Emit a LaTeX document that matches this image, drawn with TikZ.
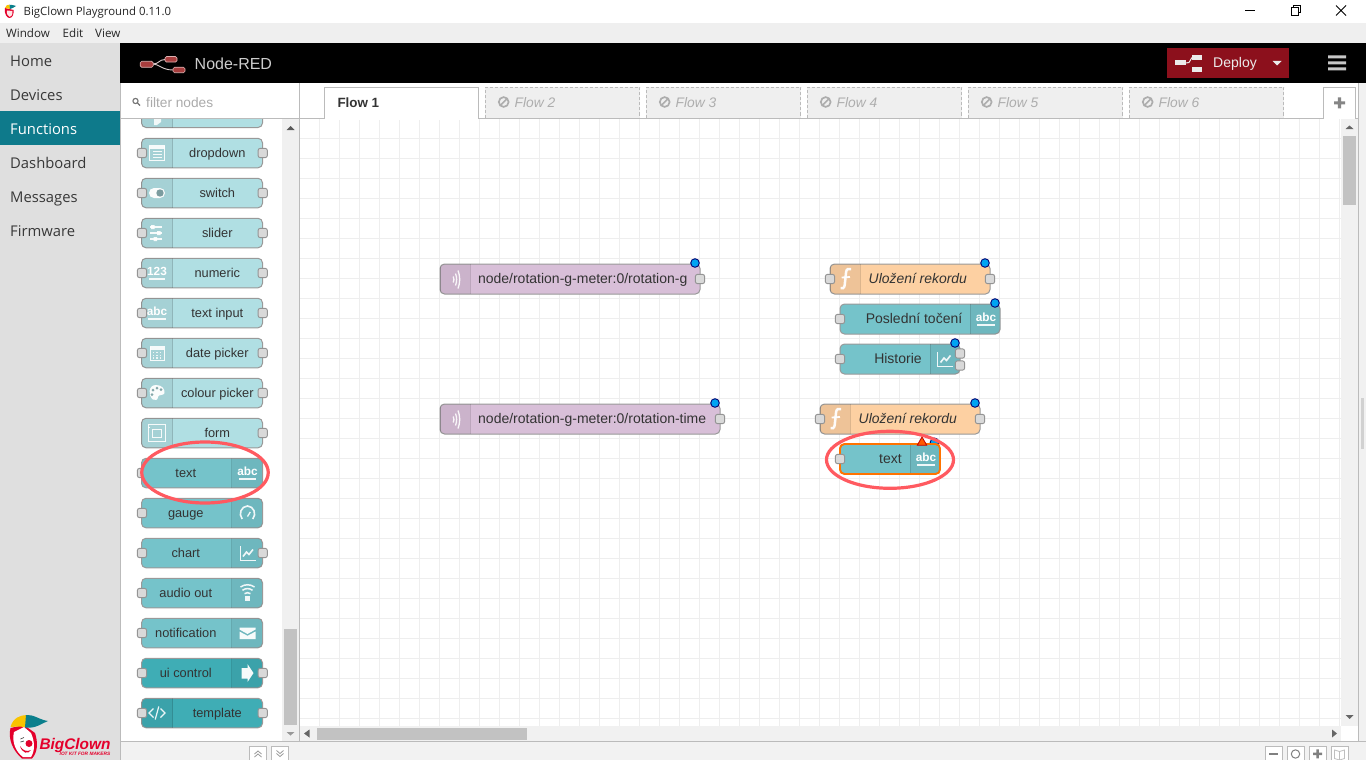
\documentclass[tikz,border=0pt]{standalone}
\usepackage{fontspec}
\setmainfont{Liberation Sans}
\newfontfamily\uifont{Open Sans}
\usetikzlibrary{shapes.geometric,calc}
\definecolor{sidegray}{HTML}{DFDFDF}
\definecolor{menugray}{HTML}{EFEFEF}
\definecolor{funcblue}{HTML}{0E7A8B}
\definecolor{deployred}{HTML}{8C101C}
\definecolor{lineg}{HTML}{BBBBBB}
\definecolor{gridg}{HTML}{EEEEEE}
\definecolor{uilight}{HTML}{B0DFE3}
\definecolor{uimid}{HTML}{75C3CA}
\definecolor{uidark}{HTML}{3FADB5}
\definecolor{mqttp}{HTML}{D8BFD8}
\definecolor{funco}{HTML}{FDD0A2}
\definecolor{portg}{HTML}{D9D9D9}
\definecolor{textd}{HTML}{333333}
\definecolor{ringred}{HTML}{FF5A60}
\definecolor{dotblue}{HTML}{00A4F2}
\definecolor{logored}{HTML}{E4002B}
\definecolor{logoyel}{HTML}{F9C400}
\definecolor{logotea}{HTML}{0B7F8C}
\definecolor{logonr}{HTML}{A83E3E}
\tikzset{
  x=1pt,y=-1pt,
  nrbody/.style={draw=black!40,line width=1pt,rounded corners=4.5pt,inner sep=0,outer sep=0},
  nrport/.style={draw=black!42,fill=portg,line width=.9pt,rounded corners=2pt,minimum size=9.2pt,inner sep=0,outer sep=0},
  nrlabel/.style={font=\fontsize{12.8}{14}\selectfont,text=textd,inner sep=0,anchor=base},
  flowlabel/.style={font=\fontsize{14}{16}\selectfont,text=textd,inner sep=0,anchor=base},
  changed/.style={circle,draw=black!55!blue,fill=dotblue,line width=.9pt,minimum size=8.6pt,inner sep=0,outer sep=0},
  sidelabel/.style={font=\uifont\fontsize{14.8}{16}\selectfont,text=black!78,anchor=base west,inner sep=0},
  menulabel/.style={font=\uifont\fontsize{11.6}{13}\selectfont,text=black!85,anchor=base west,inner sep=0},
  tabdis/.style={draw=lineg,dash pattern=on 3pt off 2pt,line width=.8pt},
  tablabel/.style={font=\itshape\fontsize{13.8}{15}\selectfont,text=black!32,anchor=base west,inner sep=0},
  ic/.style={white,line width=1pt,opacity=.9},
  ringmark/.style={draw=ringred,line width=3.2pt},
  toolbtn/.style={draw=lineg,fill=white,line width=.8pt,inner sep=0,outer sep=0},
  logobox/.style={draw=white!60!logonr,fill=logonr,line width=.7pt,rounded corners=1.5pt,inner sep=0,outer sep=0},
}
% generic node body: name,x,ytop,w,h,colour,icon x0,icon x1
\newcommand\nrbox[8]{%
  \node[nrbody,fill=#6,minimum width=#4pt,minimum height=#5pt,anchor=north west] (#1) at (#2,#3) {};
  \begin{scope}
    \clip[rounded corners=4.5pt] (#2,#3) rectangle ++(#4,#5);
    \fill[black,opacity=.06] (#7,#3) rectangle (#8,#3+#5);
    \draw[black,opacity=.13,line width=.8pt] (#7,#3) -- (#7,#3+#5);
    \draw[black,opacity=.13,line width=.8pt] (#8,#3) -- (#8,#3+#5);
  \end{scope}}
\newcommand\palL[5]{% name,ytop,colour,label,icon
  \nrbox{#1}{141.5}{#2}{121}{29.5}{#3}{141.5}{172.5}
  \begin{scope}[shift={(157,#2+14.7)}]#5\end{scope}
  \node[nrlabel] (#1-t) at (217.3,#2+19.2) {#4};}
\newcommand\palR[5]{%
  \nrbox{#1}{141.5}{#2}{121}{29.5}{#3}{231.5}{262.5}
  \begin{scope}[shift={(247.5,#2+14.7)}]#5\end{scope}
  \node[nrlabel] (#1-t) at (185.8,#2+19.2) {#4};}
\newcommand\pin[2]{\node[nrport] (#1-in) at (142,#2+14.7) {};}
\newcommand\pout[2]{\node[nrport] (#1-out) at (262.7,#2+14.7) {};}
\newcommand\icabcb[1]{\node[white,font=\bfseries\fontsize{11.8}{12}\selectfont,inner sep=0,anchor=base] (#1) at (0,2.8) {abc};\draw[ic,line width=1.4pt] (-8.7,5.9) -- (8.7,5.9);}
\newcommand\icchart{\draw[ic] (-7.5,-7) -- (-7.5,7) -- (8,7);\draw[ic,line width=1.6pt] (-4.5,3.5) -- (-1,-1) -- (1.5,1.5) -- (5.5,-3.5);}
\newcommand\icwave{\draw[ic,line width=1.3pt] (-1.8,-3) .. controls (-.8,-1) and (-.8,1) .. (-1.8,3) (.5,-6) .. controls (2,-2) and (2,2) .. (.5,6) (3,-9) .. controls (5.3,-3) and (5.3,3) .. (3,9);}
\newcommand\icfunc{\draw[white,line width=2.5pt,opacity=.95] (5.5,-9.5) .. controls (3,-10.5) and (1,-9.5) .. (.6,-6.5) -- (-.8,6.5) .. controls (-1.2,9.5) and (-3,10.5) .. (-4.8,9.5);\draw[white,line width=1.8pt,opacity=.95] (-3.8,-1) -- (4.5,-1.5);}
\begin{document}
\begin{tikzpicture}
\useasboundingbox (0,0) rectangle (1366,760);
\fill[white] (0,0) rectangle (1366,760);
% title bar and menu
\fill[menugray] (0,23) rectangle (1366,43);
\fill[logored] (5,8) .. controls (4,14) and (7,18) .. (9.5,18) .. controls (13,18) and (14,13) .. (13.5,10) -- cycle;
\fill[white!90!red] (7,10.5) .. controls (6.5,14) and (8,16.8) .. (9.8,16.8) .. controls (12,16.8) and (13,14) .. (12.5,11) -- cycle;
\fill[logoyel] (5,8) .. controls (5.5,5) and (8,4.5) .. (9.5,4.7) -- (10,9) -- cycle;
\fill[logotea] (9.5,4.7) .. controls (12,4.5) and (14,5.5) .. (16,6) .. controls (14,7) and (12,9) .. (10,9) -- cycle;
\node[menulabel,font=\uifont\fontsize{11.4}{13}\selectfont] (title) at (23.5,16) {BigClown Playground 0.11.0};
\node[menulabel] (mwin) at (6,37.6) {Window};
\node[menulabel] (medit) at (62.5,37.6) {Edit};
\node[menulabel] (mview) at (95,37.6) {View};
\draw[black,line width=.9pt] (1245,10.5) -- (1255,10.5);
\draw[black,line width=.9pt] (1291,7) rectangle (1298,15);
\draw[black,line width=.9pt] (1293.5,7) -- (1293.5,5) -- (1300.5,5) -- (1300.5,12.5) -- (1298,12.5);
\draw[black,line width=.9pt] (1336,5.5) -- (1346,15.5) (1346,5.5) -- (1336,15.5);
% left sidebar
\fill[sidegray] (0,43) rectangle (120,760);
\fill[funcblue] (0,111) rectangle (120,145);
\node[sidelabel] (home) at (10,66.4) {Home};
\node[sidelabel] (devices) at (10,100.4) {Devices};
\node[sidelabel,text=white] (functions) at (10,134.4) {Functions};
\node[sidelabel] (dashboard) at (10,168.4) {Dashboard};
\node[sidelabel] (messages) at (10,202.4) {Messages};
\node[sidelabel] (firmware) at (10,236.4) {Firmware};
% BigClown logo
\fill[logored] (10.5,728) .. controls (8,738) and (12,750) .. (22,758.5) -- (32,758.5) .. controls (38,752) and (38,742) .. (35,733) -- (24,725) -- cycle;
\fill[white] (14,732) .. controls (11.5,742) and (16,752) .. (23,757) -- (31,757) .. controls (35,751) and (35,742) .. (31,733) -- (24,727) -- cycle;
\fill[logoyel] (10.5,727) .. controls (13,718) and (20,715) .. (27,715) -- (26,727) -- (18,726.5) -- cycle;
\fill[logotea] (26,715) .. controls (33,714) and (40,720) .. (48,721) .. controls (42,723) and (36,729) .. (25,727.5) -- cycle;
\fill[logored] (29,743.5) circle (3.5);
\fill[logored] (20,746) .. controls (23,751) and (27,752) .. (31,750) .. controls (28,755) and (22,753) .. (20,746) -- cycle;
\draw[black!70,line width=.7pt] (20.5,739) -- (24,737.5) (20.5,742) -- (24,741);
\node[logored,font=\bfseries\itshape\fontsize{15.4}{18}\selectfont,inner sep=0,anchor=base] (bcname) at (75,749) {BigClown};
\node[logored,font=\bfseries\itshape\fontsize{4.8}{5}\selectfont,inner sep=0] (bcsub) at (85,754) {IOT KIT FOR MAKERS};
% black header
\fill[black] (120,43) rectangle (1366,83);
\draw[white!85!logonr,line width=.9pt,opacity=.9] (153,64) .. controls (159,64) and (159,59.5) .. (165,59.5) (153,64) .. controls (159,64) and (162,70) .. (173,70);
\node[logobox,minimum width=13pt,minimum height=6pt] (lg1) at (146.7,64.3) {};
\node[logobox,minimum width=12pt,minimum height=5.5pt] (lg2) at (171,59.3) {};
\node[logobox,minimum width=12pt,minimum height=5.5pt] (lg3) at (179,70) {};
\node[font=\fontsize{16}{18}\selectfont,text=black!20,anchor=base west,inner sep=0] (nrtitle) at (194.5,69.7) {Node-RED};
% deploy
\node[fill=deployred,minimum width=122pt,minimum height=30pt,inner sep=0,outer sep=0,anchor=north west] (deploy) at (1167,48) {};
\node[font=\fontsize{14}{16}\selectfont,text=black!8,inner sep=0,anchor=base] (deployt) at (1235,68) {Deploy};
\fill[white!92!black] (1175,60.5) rectangle (1186,65.5);
\fill[white!92!black] (1192,55) rectangle (1202,60);
\fill[white!92!black] (1192,67.5) rectangle (1202,72.5);
\draw[white!92!black,line width=1pt] (1186,63) -- (1189,62.5) -- (1192,57.5);
\fill[white!92!black] (1272.5,61) -- (1281.5,61) -- (1277,65.5) -- cycle;
\fill[black!22] (1328,55.5) rectangle (1346,58.5) (1328,61.5) rectangle (1346,64.5) (1328,67.5) rectangle (1346,70.5);
% canvas grid
\begin{scope}
\clip (300,119) rectangle (1341,726);
\foreach \gx in {0,...,51} \draw[gridg,line width=.8pt] (319.5+20*\gx,119) -- (319.5+20*\gx,726);
\foreach \gy in {0,...,29} \draw[gridg,line width=.8pt] (300,138.5+20*\gy) -- (1341,138.5+20*\gy);
\end{scope}
% canvas scrollbars
\fill[white!94.5!black] (1341,119) rectangle (1358,726);
\fill[white!94.5!black] (300,726) rectangle (1341,741);
\fill[black!24] (1343,136) rectangle (1356,205);
\fill[black!24] (317,727.5) rectangle (527,740);
\fill[black!60] (1345.5,129) -- (1353.5,129) -- (1349.5,125.5) -- cycle;
\fill[black!60] (1345.5,715) -- (1353.5,715) -- (1349.5,719) -- cycle;
\fill[black!60] (304,733.5) -- (309.5,729.5) -- (309.5,737.5) -- cycle;
\fill[black!60] (1337,733.5) -- (1332,729.5) -- (1332,737.5) -- cycle;
\draw[lineg,line width=.8pt] (1358.3,83) -- (1358.3,741);
\fill[white!94.5!black] (1358.7,83) rectangle (1366,741);
\fill[black!18] (1361,398) rectangle (1364,449);
% tabs
\fill[white] (300,83) rectangle (1358,118);
\draw[lineg,line width=1pt] (300,118.5) -- (1358,118.5);
\draw[lineg,line width=.8pt,fill=white] (324.5,118.5) -- (324.5,87.5) -- (478.7,87.5) -- (478.7,118.5);
\fill[white] (325,117) rectangle (478.2,120);
\node[font=\bfseries\fontsize{13.4}{15}\selectfont,text=textd,anchor=base west,inner sep=0] (flow1) at (337.3,107) {Flow 1};
\foreach \fx/\fn in {485/2,646/3,807/4,968/5,1129/6}{
  \fill[menugray] (\fx,87.5) rectangle (\fx+154.5,118);
  \draw[tabdis] (\fx,118) -- (\fx,87.5) -- (\fx+154.5,87.5) -- (\fx+154.5,118);
  \draw[black!32,line width=1.7pt] (\fx+18.7,102) circle (4.9);
  \draw[black!32,line width=1.7pt] (\fx+15.2,105.5) -- (\fx+22.2,98.5);
  \node[tablabel] (flow\fn) at (\fx+29.5,107) {Flow \fn};
}
\draw[lineg,line width=.8pt,fill=white] (1323,118.5) -- (1323,87.5) -- (1355,87.5) -- (1355,118.5);
\fill[black!48] (1334,101.3) rectangle (1345,104.3) (1337.9,97.3) rectangle (1341,108.3);
% bottom bar
\fill[white!95!black] (121,741) rectangle (1366,760);
\draw[lineg,line width=1pt] (121,741.5) -- (1366,741.5);
\node[toolbtn,minimum width=17pt,minimum height=19pt,anchor=north west] (bup) at (249.5,746) {};
\node[toolbtn,minimum width=17pt,minimum height=19pt,anchor=north west] (bdown) at (271.5,746) {};
\draw[black!40,line width=.8pt] (254.5,754) -- (258,751) -- (261.5,754) (254.5,757) -- (258,754) -- (261.5,757);
\draw[black!40,line width=.8pt] (276.5,750.5) -- (280,753.5) -- (283.5,750.5) (276.5,753.5) -- (280,756.5) -- (283.5,753.5);
\node[toolbtn,minimum width=17pt,minimum height=19pt,anchor=north west] (zm) at (1265,746) {};
\node[toolbtn,minimum width=17pt,minimum height=19pt,anchor=north west] (zr) at (1287,746) {};
\node[toolbtn,minimum width=17pt,minimum height=19pt,anchor=north west] (zp) at (1309,746) {};
\node[toolbtn,minimum width=17pt,minimum height=19pt,anchor=north west] (zn) at (1331,746) {};
\fill[black!50] (1269,752.5) rectangle (1278,755);
\draw[black!50,line width=1pt] (1295.5,754) circle (4.2);
\fill[black!50] (1313,752.5) rectangle (1322,755) (1316.3,749.3) rectangle (1318.8,758.3);
\draw[black!25,line width=.8pt] (1334.5,750) -- (1339.5,751.5) -- (1344.5,750) -- (1344.5,758.5) -- (1339.5,760) -- (1334.5,758.5) -- cycle (1339.5,751.5) -- (1339.5,760);
% palette panel
\fill[white] (121,83) rectangle (300,118);
\draw[lineg,line width=1pt] (121,118.5) -- (300,118.5);
\draw[lineg,line width=.9pt] (120.5,83) -- (120.5,760);
\draw[lineg,line width=.9pt] (299.5,83) -- (299.5,741);
\draw[black!55,line width=1.1pt] (135.5,101) circle (2.6) (137.5,103) -- (140,105.5);
\node[font=\fontsize{13.7}{15}\selectfont,text=black!33,anchor=base west,inner sep=0] (filter) at (146,107) {filter nodes};
\fill[white!94!black] (282,119) rectangle (298.5,741);
\fill[black!24] (284,629) rectangle (297,725);
\fill[black!65] (286.5,130) -- (294.5,130) -- (290.5,126) -- cycle;
\fill[black!40] (286.5,732) -- (294.5,732) -- (290.5,735.5) -- cycle;
% clipped node at the top of the list
\begin{scope}
\clip (122,119) rectangle (282,140);
\nrbox{clipn}{141.5}{98}{121}{29.5}{uilight}{141.5}{172.5}
\fill[white,opacity=.85] (154,119) -- (161,119) -- (161,122) -- (157,125) -- (154,125) -- cycle;
\end{scope}
% palette nodes
\palL{ndrop}{138.3}{uilight}{dropdown}{\draw[ic] (-7.7,-7.5) rectangle (7.7,7.5);\fill[white,opacity=.9] (-7.7,-7.5) rectangle (7.7,-4);\draw[ic,line width=.8pt] (-4,-1.5)--(5,-1.5) (-4,1.5)--(5,1.5) (-4,4.5)--(5,4.5);}
\pin{ndrop}{138.3}\pout{ndrop}{138.3}
\palL{nswitch}{178.3}{uilight}{switch}{\fill[white,opacity=.95,rounded corners=5pt] (-8,-5) rectangle (8,5);\fill[uilight!70!black] (3,0) circle (3.7);}
\pin{nswitch}{178.3}\pout{nswitch}{178.3}
\palL{nslider}{218.3}{uilight}{slider}{\draw[ic,line width=1.2pt] (-7,-6)--(5,-6) (-7,0)--(5,0) (-7,6)--(5,6);\fill[white,opacity=.9] (-6,-8) rectangle (-2.5,-4) (0,-2) rectangle (3.5,2) (-3.5,4) rectangle (0,8);}
\pin{nslider}{218.3}\pout{nslider}{218.3}
\palL{nnum}{258.3}{uilight}{numeric}{\node[white,font=\bfseries\fontsize{11.8}{12}\selectfont,inner sep=0,anchor=base] (i123) at (0,2.8) {123};\draw[ic,line width=1.4pt] (-8,5.9) -- (8,5.9);}
\pin{nnum}{258.3}\pout{nnum}{258.3}
\palL{ntin}{298.3}{uilight}{text input}{\icabcb{itin}}
\pin{ntin}{298.3}\pout{ntin}{298.3}
\palL{ndate}{338.3}{uilight}{date picker}{\draw[ic] (-7,-6.5) rectangle (7,7.5);\fill[white,opacity=.9] (-7,-6.5) rectangle (7,-3.5);\foreach \dx in {-3.5,0,3.5}\foreach \dy in {-.5,2.2,4.9}\fill[white,opacity=.8] (\dx-.6,\dy-.6) rectangle (\dx+.6,\dy+.6);}
\pin{ndate}{338.3}\pout{ndate}{338.3}
\palL{ncol}{378.3}{uilight}{colour picker}{\fill[white,opacity=.95] (-1,-8) .. controls (5,-8) and (8,-4) .. (7.5,0) .. controls (7,3) and (1,1) .. (1,4) .. controls (1,7) and (-2,8) .. (-4,6.5) .. controls (-9,3) and (-9,-8) .. (-1,-8) -- cycle;\fill[uilight!75!black] (-4,-3) circle (1.5) (0,-5) circle (1.5) (4,-3.5) circle (1.5) (-5,1.5) circle (1.5);}
\pin{ncol}{378.3}\pout{ncol}{378.3}
\palL{nform}{418.3}{uilight}{form}{\draw[ic,line width=.8pt] (-9,-8.5) rectangle (8,8.5);\draw[ic,line width=.8pt] (-4.5,-4) rectangle (4,4.5);\draw[ic,line width=.8pt] (-9,-5.5) -- (-7,-5.5);}
\pout{nform}{418.3}
\pin{ntext}{458.3}
\palR{ntext}{458.3}{uimid}{text}{\icabcb{itxt}}
\palR{ngauge}{498.3}{uimid}{gauge}{\draw[ic,line width=1.6pt] (-5.3,6) .. controls (-9.5,1) and (-6,-7) .. (0,-7) .. controls (6,-7) and (9.5,1) .. (5.3,6);\draw[ic,line width=1.3pt] (0,3.5) -- (2.8,-1);}
\pin{ngauge}{498.3}
\palR{nchart}{538.3}{uimid}{chart}{\icchart}
\pin{nchart}{538.3}\pout{nchart}{538.3}
\palR{naudio}{578.3}{uimid}{audio out}{\fill[white,opacity=.9] (-2.5,2.5) rectangle (2.5,8);\draw[ic,line width=1.5pt] (-7,-6) .. controls (-3,-9) and (3,-9) .. (7,-6) (-5,-2.7) .. controls (-2,-5) and (2,-5) .. (5,-2.7) (-3,.7) .. controls (-1,-.7) and (1,-.7) .. (3,.7);}
\pin{naudio}{578.3}
\palR{nnote}{618.3}{uimid}{notification}{\fill[white,opacity=.95] (-8,-5.5) -- (8,-5.5) -- (8,-3.5) -- (0,1) -- (-8,-3.5) -- cycle;\fill[white,opacity=.95] (-8,-1.5) -- (0,2.8) -- (8,-1.5) -- (8,6) -- (-8,6) -- cycle;}
\pin{nnote}{618.3}
\palR{nuic}{658.3}{uidark}{ui control}{\fill[white,opacity=.95] (-6,-5) -- (0,-5) -- (0,-9) -- (6,0) -- (0,9) -- (0,5.5) -- (-6,5.5) -- cycle;}
\pin{nuic}{658.3}\pout{nuic}{658.3}
\palL{ntmpl}{698.3}{uidark}{template}{\draw[ic,line width=1.2pt] (-3.5,-4.5)--(-8,0)--(-3.5,4.5) (3.5,-4.5)--(8,0)--(3.5,4.5) (1.8,-6.5)--(-1.8,6.5);}
\pin{ntmpl}{698.3}\pout{ntmpl}{698.3}
% ------- flow nodes
\nrbox{mq1}{440}{264}{260}{30}{mqttp}{440}{470}
\begin{scope}[shift={(455,279.5)}]\icwave\end{scope}
\node[flowlabel] (mq1-t) at (582.7,283.3) {node/rotation-g-meter:0/rotation-g};
\node[nrport] (mq1-out) at (700,279) {};
\node[changed] (mq1-d) at (695,263) {};
\nrbox{mq2}{440}{404}{280}{30}{mqttp}{440}{470}
\begin{scope}[shift={(455,419.5)}]\icwave\end{scope}
\node[flowlabel] (mq2-t) at (592.2,423.3) {node/rotation-g-meter:0/rotation-time};
\node[nrport] (mq2-out) at (720,419) {};
\node[changed] (mq2-d) at (715,403) {};
\nrbox{fn1}{830}{264}{160}{30}{funco}{830}{860}
\begin{scope}[shift={(845.5,278.5)}]\icfunc\end{scope}
\node[flowlabel,font=\itshape\fontsize{13.9}{16}\selectfont] (fn1-t) at (917.8,283) {Uložení rekordu};
\node[nrport] (fn1-in) at (830,279) {};
\node[nrport] (fn1-out) at (990,279) {};
\node[changed] (fn1-d) at (985,263) {};
\nrbox{last}{840}{304}{160}{30}{uimid}{970}{1000}
\begin{scope}[shift={(986,319)}]\icabcb{ilast}\end{scope}
\node[flowlabel] (last-t) at (914,323) {Poslední točení};
\node[nrport] (last-in) at (840,319) {};
\node[changed] (last-d) at (995,303) {};
\nrbox{hist}{840}{344}{120}{30}{uimid}{930}{960}
\begin{scope}[shift={(945,359)}]\icchart\end{scope}
\node[flowlabel] (hist-t) at (898,363) {Historie};
\node[nrport] (hist-in) at (840,359) {};
\node[nrport] (hist-o1) at (960,353.5) {};
\node[nrport] (hist-o2) at (960,365.5) {};
\node[changed] (hist-d) at (955,343) {};
\nrbox{fn2}{820}{404}{160}{30}{funco}{820}{850}
\begin{scope}[shift={(835.5,418.5)}]\icfunc\end{scope}
\node[flowlabel,font=\itshape\fontsize{13.9}{16}\selectfont] (fn2-t) at (907.8,423) {Uložení rekordu};
\node[nrport] (fn2-in) at (820,419) {};
\node[nrport] (fn2-out) at (980,419) {};
\node[changed] (fn2-d) at (975,403) {};
\node[changed] (txt-d) at (934.5,442.3) {};
\nrbox{txt}{840}{444}{100}{30}{uimid}{910}{940}
\draw[orange!90!red,line width=1.9pt,rounded corners=4.5pt] (840,444) rectangle (940,474);
\begin{scope}[shift={(926,459)}]\icabcb{itxt2}\end{scope}
\node[flowlabel] (txt-t) at (890.5,463) {text};
\node[nrport] (txt-in) at (840,459) {};
\node[regular polygon,regular polygon sides=3,fill=orange!70!red,draw=red!75!black,line width=.8pt,minimum size=11pt,inner sep=0] (txt-w) at (922,442.5) {};
% red rings
\node[ellipse,ringmark,minimum width=126.5pt,minimum height=61pt,inner sep=0] (ring1) at (205,472.5) {};
\node[ellipse,ringmark,minimum width=127pt,minimum height=57pt,inner sep=0] (ring2) at (890,459.8) {};
\end{tikzpicture}
\end{document}
